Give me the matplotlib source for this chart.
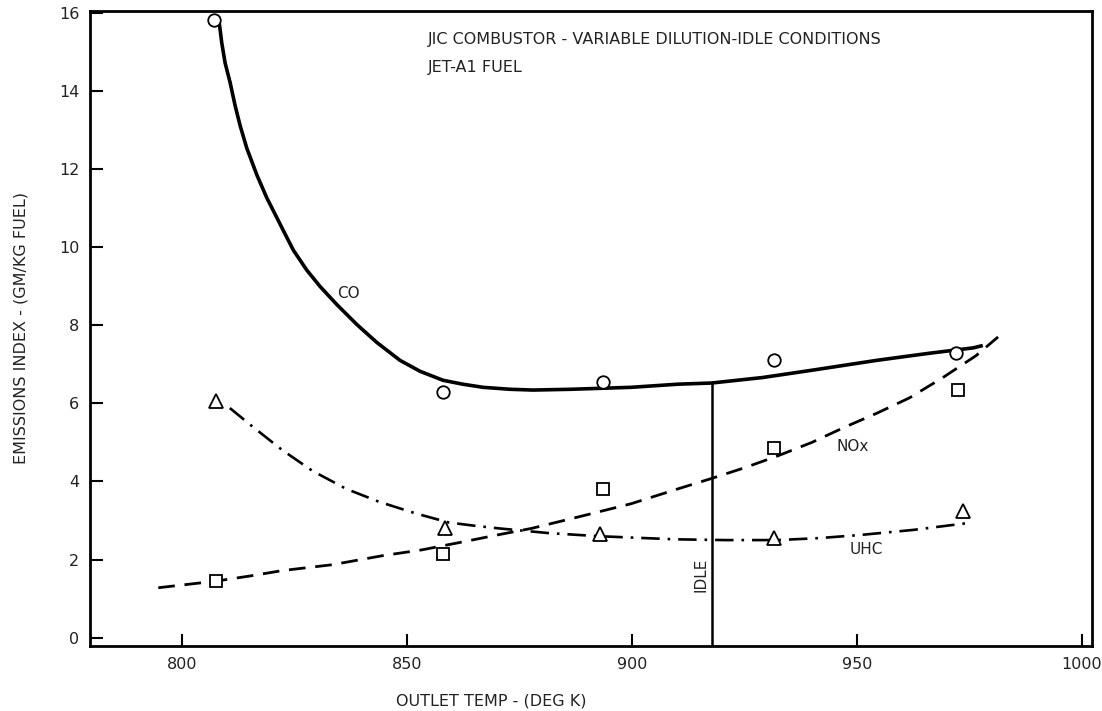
import matplotlib
matplotlib.use("Agg")
import matplotlib.pyplot as plt

# ---- measured data points ----
co_x = [807, 858, 893.5, 931.5, 972]
co_y = [15.8, 6.3, 6.55, 7.1, 7.3]
nox_x = [807.5, 858, 893.5, 931.5, 972.5]
nox_y = [1.45, 2.15, 3.8, 4.85, 6.35]
uhc_x = [807.5, 858.5, 893, 931.5, 973.5]
uhc_y = [6.05, 2.8, 2.65, 2.55, 3.25]

# ---- faired curves ----
co_curve_x = [808.07, 808.82, 809.56, 810.67, 811.78, 812.89, 814.38, 816.60, 818.82,
              820.67, 822.51, 824.73, 827.71, 830.67, 834.38, 838.82, 843.27, 848.44,
              852.9, 858.0, 862.4, 866.9, 872.9, 878.0, 886.5, 899.8, 910.2, 917.7,
              929.0, 939.6, 954.4, 966.0, 975.9, 978.0]
co_curve_y = [15.9, 15.22, 14.71, 14.21, 13.62, 13.11, 12.53, 11.85, 11.26,
              10.84, 10.42, 9.92, 9.41, 8.99, 8.53, 8.02, 7.56, 7.10,
              6.82, 6.59, 6.49, 6.41, 6.36, 6.34, 6.36, 6.41, 6.49, 6.52,
              6.66, 6.84, 7.10, 7.28, 7.42, 7.48]
nox_curve_x = [794.7, 807.5, 815.0, 822.3, 833.4, 844.5, 853.3, 863.1, 870.0, 877.7,
               888.7, 899.8, 910.2, 917.5, 925.0, 932.3, 940.0, 947.1, 954.5, 961.7,
               969.0, 976.5, 981.4]
nox_curve_y = [1.28, 1.45, 1.58, 1.72, 1.87, 2.10, 2.25, 2.47, 2.63, 2.80,
               3.11, 3.43, 3.81, 4.07, 4.35, 4.65, 5.00, 5.38, 5.75, 6.14,
               6.65, 7.22, 7.70]
uhc_curve_x = [810.6, 815.7, 822.3, 829.0, 836.5, 843.8, 852.0, 859.3, 864.8, 870.4,
               881.4, 892.5, 901.0, 909.5, 921.0, 932.3, 941.5, 950.7, 962.5, 974.3]
uhc_curve_y = [5.88, 5.40, 4.80, 4.27, 3.81, 3.48, 3.18, 2.95, 2.87, 2.80,
               2.68, 2.60, 2.56, 2.52, 2.50, 2.50, 2.55, 2.63, 2.76, 2.93]

idle_x = 917.7
idle_top = 6.52

x_ticks = [800, 850, 900, 950, 1000]
y_ticks = [0, 2, 4, 6, 8, 10, 12, 14, 16]
y_tick_labels = ['0', '2', '4', '6', '8', '10', '12', '14', '16']

plt.rcParams['font.family'] = ['DejaVu Sans']
fig = plt.figure(figsize=(11.02, 7.11), dpi=100)
ax = fig.add_axes([0.082, 0.092, 0.909, 0.893])

ax.plot(co_curve_x, co_curve_y, color='black', lw=2.6, solid_capstyle='butt',
        solid_joinstyle='round')
ax.plot(nox_curve_x, nox_curve_y, color='black', lw=2.0, dashes=(6, 3.5))
ax.plot(uhc_curve_x, uhc_curve_y, color='black', lw=1.9, dashes=(7, 3, 1, 3))
ax.plot([idle_x, idle_x], [-0.3, idle_top], color='black', lw=1.8)

ms = 9
ax.plot(co_x, co_y, 'o', ms=ms, mfc='white', mec='black', mew=1.3, clip_on=False)
ax.plot(nox_x, nox_y, 's', ms=ms, mfc='white', mec='black', mew=1.3)
ax.plot(uhc_x, uhc_y, '^', ms=ms + 1, mfc='white', mec='black', mew=1.3)

ax.text(837, 8.8, 'CO', fontsize=11, ha='center', va='center', color='#222222')
ax.text(949, 4.9, 'NOx', fontsize=11, ha='center', va='center', color='#222222')
ax.text(952, 2.25, 'UHC', fontsize=11, ha='center', va='center', color='#222222')
ax.text(915.3, 1.6, 'IDLE', fontsize=11, rotation=90, ha='center', va='center', color='#222222')
ax.text(0.337, 0.955, 'JIC COMBUSTOR - VARIABLE DILUTION-IDLE CONDITIONS',
        transform=ax.transAxes, fontsize=11.5, ha='left', va='center', color='#222222')
ax.text(0.337, 0.91, 'JET-A1 FUEL', transform=ax.transAxes, fontsize=11.5,
        ha='left', va='center', color='#222222')

ax.set_xlim(779.6, 1002.3)
ax.set_ylim(-0.2, 16.05)
ax.set_xticks(x_ticks)
ax.set_yticks(y_ticks)
ax.set_yticklabels(y_tick_labels)
ax.tick_params(direction='in', length=9, width=1.5, labelsize=11.5, colors='black',
               labelcolor='#222222', pad=8)
for s in ax.spines.values():
    s.set_linewidth(2.0)
ax.set_xlabel('OUTLET TEMP - (DEG K)', fontsize=11.5, color='#222222', labelpad=10)
ax.xaxis.set_label_coords(0.40, -0.075)
ax.set_ylabel('EMISSIONS INDEX - (GM/KG FUEL)', fontsize=11.5, color='#222222', labelpad=22)

fig.savefig('out.png', dpi=100, facecolor='white')
